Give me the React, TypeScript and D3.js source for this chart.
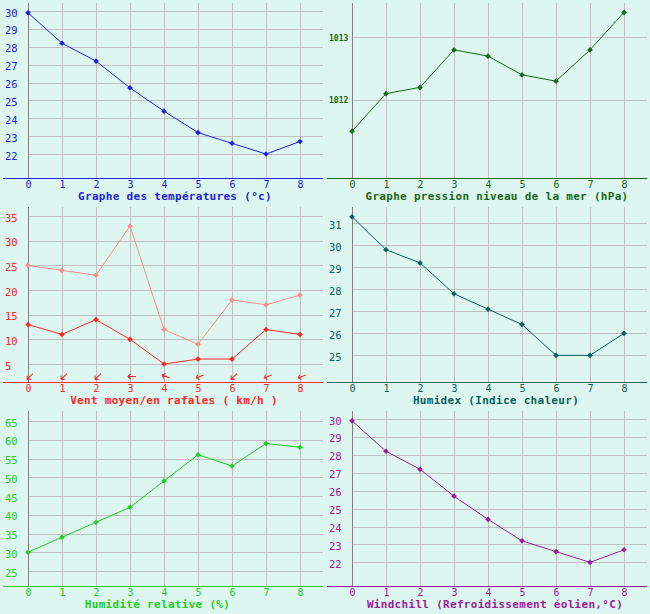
import * as d3 from "d3";
import React, { useEffect, useRef } from "react";

// hourly steps on the x axis
const steps = [0, 1, 2, 3, 4, 5, 6, 7, 8];

const temperature = [29.9, 28.2, 27.2, 25.7, 24.4, 23.2, 22.6, 22.0, 22.7];
const pressure = [1011.5, 1012.1, 1012.2, 1012.8, 1012.7, 1012.4, 1012.3, 1012.8, 1013.4];
const windMean = [13, 11, 14, 10, 5, 6, 6, 12, 11];
const windGust = [25, 24, 23, 33, 12, 9, 18, 17, 19];
const windFrom = ["NE", "NE", "NE", "E", "ESE", "ENE", "NE", "ENE", "ENE"];
const humidex = [31.3, 29.8, 29.2, 27.8, 27.1, 26.4, 25, 25, 26];
const humidity = [30, 34, 38, 42, 49, 56, 53, 59, 58];
const windchill = [29.9, 28.2, 27.2, 25.7, 24.4, 23.2, 22.6, 22.0, 22.7];

const tempTicks = [22, 23, 24, 25, 26, 27, 28, 29, 30];
const pressureTicks = [1012, 1013];
const windTicks = [5, 10, 15, 20, 25, 30, 35];
const humidexTicks = [25, 26, 27, 28, 29, 30, 31];
const humidityTicks = [25, 30, 35, 40, 45, 50, 55, 60, 65];
const windchillTicks = [22, 23, 24, 25, 26, 27, 28, 29, 30];

const compass: Record<string, number> = { N: 0, NE: 45, ENE: 67.5, E: 90, ESE: 112.5, SE: 135 };

type Series = { values: number[]; color: string };
type Panel = {
  col: number;
  row: number;
  domain: [number, number]; // value at axis line, value at top
  ticks: number[];
  series: Series[];
  color: string;
  title: string;
  titleX: number;
  smallTicks?: boolean;
  arrows?: boolean;
};

const panels: Panel[] = [
  { col: 0, row: 0, domain: [20.66, 30.45], ticks: tempTicks, color: "#2020e0",
    series: [{ values: temperature, color: "#2020e0" }], title: "Graphe des températures (°c)", titleX: 175 },
  { col: 1, row: 0, domain: [1010.75, 1013.55], ticks: pressureTicks, color: "#1a661a",
    series: [{ values: pressure, color: "#1a661a" }], title: "Graphe pression niveau de la mer (hPa)", titleX: 497, smallTicks: true },
  { col: 0, row: 1, domain: [1.35, 36.85], ticks: windTicks, color: "#ff2626",
    series: [{ values: windGust, color: "#ff8c8c" }, { values: windMean, color: "#ff2626" }],
    title: "Vent moyen/en rafales ( km/h )", titleX: 174, arrows: true },
  { col: 1, row: 1, domain: [23.79, 31.74], ticks: humidexTicks, color: "#0c6060",
    series: [{ values: humidex, color: "#0c6060" }], title: "Humidex (Indice chaleur)", titleX: 496 },
  { col: 0, row: 2, domain: [21, 67.67], ticks: humidityTicks, color: "#22cc22",
    series: [{ values: humidity, color: "#22cc22" }], title: "Humidité relative (%)", titleX: 157.5 },
  { col: 1, row: 2, domain: [20.68, 30.45], ticks: windchillTicks, color: "#9c1c9c",
    series: [{ values: windchill, color: "#9c1c9c" }], title: "Windchill (Refroidissement éolien,°C)", titleX: 495 },
];

const W = 650;
const H = 614;
const colLeft = [3, 327];
const rowTop = [3, 207, 411];
const rowAxis = [178, 382, 586];
const mono = "'DejaVu Sans Mono', monospace";

export default function App() {
  const svgRef = useRef<SVGSVGElement | null>(null);

  useEffect(() => {
    document.body.style.margin = "0";
    const svg = d3.select(svgRef.current);
    svg.selectAll("*").remove();

    svg.append("rect").attr("width", W).attr("height", H).attr("fill", "#ddf7f0");

    panels.forEach((p) => {
      const left = colLeft[p.col];
      const right = left + 320;
      const axisX = left + 25;
      const top = rowTop[p.row];
      const axisY = rowAxis[p.row];

      const x = d3.scaleLinear().domain([0, 8]).range([axisX, axisX + 272]);
      const y = d3.scaleLinear().domain(p.domain).range([axisY, top]);

      const g = svg.append("g");

      // horizontal grid
      g.append("g")
        .selectAll("line")
        .data(p.ticks)
        .join("line")
        .attr("x1", axisX).attr("x2", right)
        .attr("y1", (d) => Math.round(y(d)) + 0.5).attr("y2", (d) => Math.round(y(d)) + 0.5)
        .attr("stroke", "#c0c0c0").attr("shape-rendering", "crispEdges");

      // vertical grid
      g.append("g")
        .selectAll("line")
        .data(steps.slice(1))
        .join("line")
        .attr("x1", (d) => Math.round(x(d)) + 0.5).attr("x2", (d) => Math.round(x(d)) + 0.5)
        .attr("y1", top).attr("y2", axisY)
        .attr("stroke", "#c0c0c0").attr("shape-rendering", "crispEdges");

      // y axis line
      g.append("line")
        .attr("x1", axisX + 0.5).attr("x2", axisX + 0.5)
        .attr("y1", top).attr("y2", axisY)
        .attr("stroke", "#808080").attr("shape-rendering", "crispEdges");

      // x axis line
      g.append("line")
        .attr("x1", left).attr("x2", right)
        .attr("y1", axisY + 0.5).attr("y2", axisY + 0.5)
        .attr("stroke", p.color).attr("stroke-width", 1.2).attr("shape-rendering", "crispEdges");

      // y tick labels
      g.append("g")
        .selectAll("text")
        .data(p.ticks)
        .join("text")
        .attr("x", left + 2)
        .attr("y", (d) => y(d) + (p.smallTicks ? 3.5 : 5.5))
        .attr("fill", p.color)
        .attr("font-family", mono)
        .attr("font-size", p.smallTicks ? 8 : 10.5)
        .attr("font-weight", p.smallTicks ? "bold" : "normal")
        .text((d) => d);

      // x tick labels
      g.append("g")
        .selectAll("text")
        .data(steps)
        .join("text")
        .attr("x", (d) => x(d) + 0.5)
        .attr("y", axisY + 9.5)
        .attr("text-anchor", "middle")
        .attr("fill", p.color)
        .attr("font-family", mono)
        .attr("font-size", 10)
        .text((d) => d);

      // title
      g.append("text")
        .attr("x", p.titleX)
        .attr("y", axisY + 22.3)
        .attr("text-anchor", "middle")
        .attr("fill", p.color)
        .attr("font-family", mono)
        .attr("font-size", 11)
        .attr("letter-spacing", 0.3)
        .attr("font-weight", "bold")
        .text(p.title);

      // series
      p.series.forEach((s) => {
        const line = d3.line<number>().x((_, i) => x(steps[i])).y((d) => y(d));
        g.append("path")
          .attr("d", line(s.values))
          .attr("fill", "none")
          .attr("stroke", s.color)
          .attr("stroke-width", 1);
        g.append("g")
          .selectAll("path")
          .data(s.values)
          .join("path")
          .attr("transform", (d, i) => `translate(${x(steps[i])},${y(d)})`)
          .attr("d", d3.symbol(d3.symbolDiamond2, 20)())
          .attr("fill", s.color);
      });

      // wind direction arrows
      if (p.arrows) {
        g.append("g")
          .selectAll("g")
          .data(windFrom)
          .join("g")
          .attr("transform", (d, i) => {
            const bearing = compass[d] + 180;
            return `translate(${x(steps[i]) + 2},${axisY - 5.5}) rotate(${bearing})`;
          })
          .call((sel) =>
            sel.append("path")
              .attr("d", "M0,4L0,-4M-2.5,-1.5L0,-4L2.5,-1.5")
              .attr("fill", "none")
              .attr("stroke", p.color)
              .attr("stroke-width", 1.1)
          );
      }
    });
  }, []);

  return <svg ref={svgRef} width={W} height={H} style={{ display: "block" }} />;
}
